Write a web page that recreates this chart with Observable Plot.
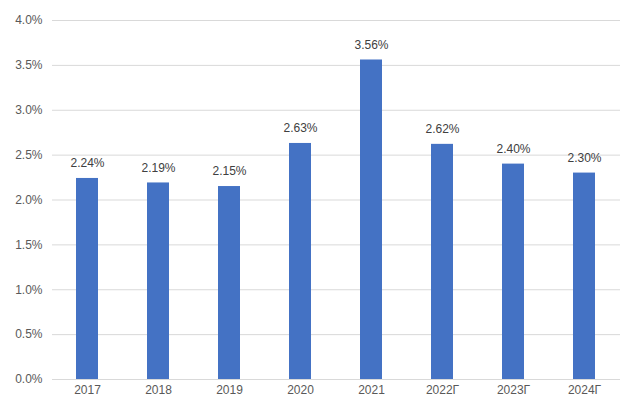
<!DOCTYPE html>
<html>
<head>
<meta charset="utf-8">
<script src="https://cdn.jsdelivr.net/npm/d3@7"></script>
<script src="https://cdn.jsdelivr.net/npm/@observablehq/plot@0.6"></script>
<style>
  html, body { margin: 0; padding: 0; background: #fff; }
  svg { display: block; }
</style>
</head>
<body>
<div id="chart"></div>
<script>
const years = ["2017", "2018", "2019", "2020", "2021", "2022Г", "2023Г", "2024Г"];
const values = [2.24, 2.19, 2.15, 2.63, 3.56, 2.62, 2.40, 2.30];
const labels = ["2.24%", "2.19%", "2.15%", "2.63%", "3.56%", "2.62%", "2.40%", "2.30%"];
const yTicks = [0, 0.5, 1, 1.5, 2, 2.5, 3, 3.5, 4];

const data = years.map((y, i) => ({year: y, value: values[i], label: labels[i]}));

const chart = Plot.plot({
  width: 640,
  height: 414,
  marginLeft: 52,
  marginRight: 20,
  marginTop: 20,
  marginBottom: 35,
  style: {fontFamily: "'Liberation Sans', Arial, sans-serif", fontSize: "12px", color: "#595959", background: "#fff"},
  x: {domain: years, paddingInner: 0.69, paddingOuter: 0.345, label: null},
  y: {domain: [0, 4], label: null},
  marks: [
    Plot.gridY(yTicks, {stroke: "#d9d9d9", strokeOpacity: 1, strokeWidth: 1}),
    Plot.barY(data, {x: "year", y: "value", fill: "#4472c4"}),
    Plot.text(data, {x: "year", y: "value", text: "label", dy: -15, fill: "#404040", fontSize: 12}),
    Plot.axisY(yTicks, {tickSize: 0, tickPadding: 10, tickFormat: d => d.toFixed(1) + "%", fill: "#595959", fontSize: 12}),
    Plot.axisX({tickSize: 0, tickPadding: 6, fill: "#595959", fontSize: 12})
  ]
});
document.getElementById("chart").appendChild(chart);
</script>
</body>
</html>
